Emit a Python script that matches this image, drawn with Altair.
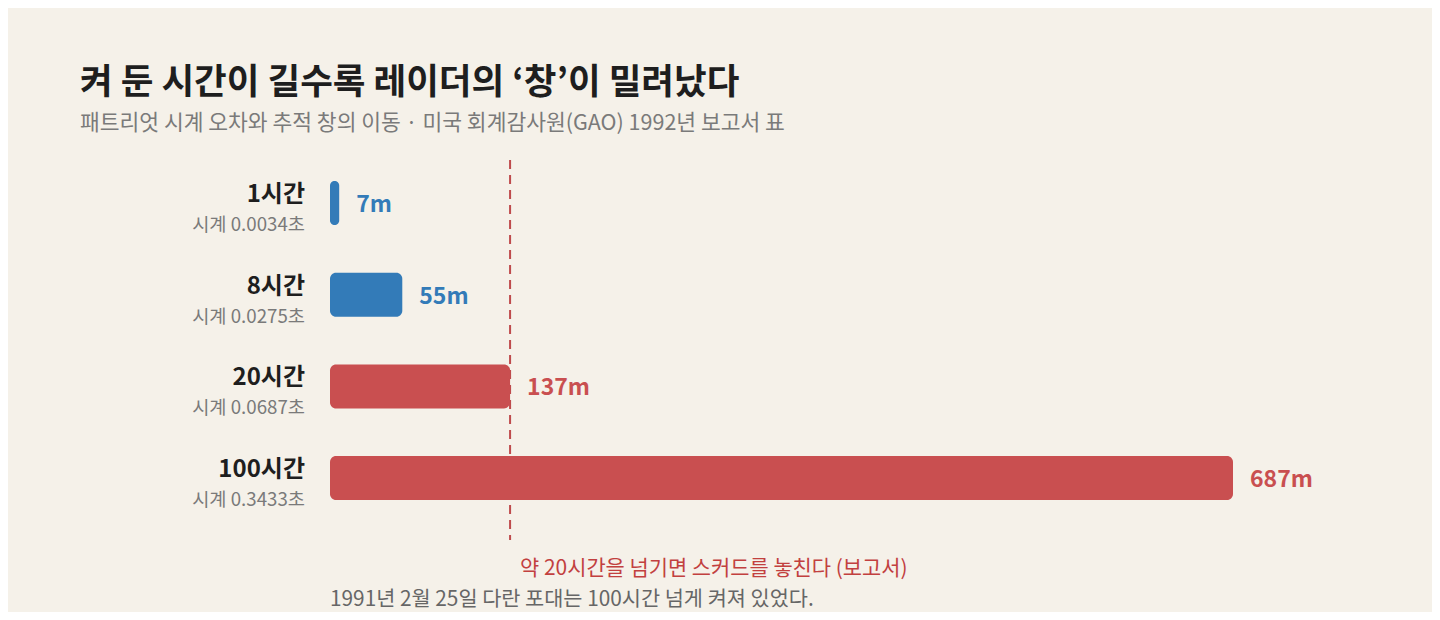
import altair as alt
import pandas as pd

# ---- data ----
hours = ["1시간", "8시간", "20시간", "100시간"]
clock_error = ["시계 0.0034초", "시계 0.0275초", "시계 0.0687초", "시계 0.3433초"]
shift_m = [7, 55, 137, 687]
value_labels = ["7m", "55m", "137m", "687m"]
status = ["within", "within", "lost", "lost"]
threshold_m = [137]
annotation_text = ["약 20시간을 넘기면 스커드를 놓친다 (보고서)"]
footnote_text = ["1991년 2월 25일 다란 포대는 100시간 넘게 켜져 있었다."]

title_text = "켜 둔 시간이 길수록 레이더의 ‘창’이 밀려났다"
subtitle_text = "패트리엇 시계 오차와 추적 창의 이동 · 미국 회계감사원(GAO) 1992년 보고서 표"

df = pd.DataFrame({
    "hours": hours,
    "clock": clock_error,
    "shift": shift_m,
    "label": value_labels,
    "status": status,
})
thr = pd.DataFrame({"t": threshold_m, "note": annotation_text})
foot = pd.DataFrame({"x": [0], "note": footnote_text})

FONT = "Noto Sans CJK KR"
BG = "#f5f1e9"
BLUE = "#337bb8"
RED = "#c94f50"

x_scale = alt.Scale(domain=[0, 687], range=[250, 1153])
y_scale = alt.Scale(domain=hours, range=[7.15, 373.95], paddingInner=0.52, paddingOuter=0.26)
color_scale = alt.Scale(domain=["within", "lost"], range=[BLUE, RED])
text_color_scale = alt.Scale(domain=["within", "lost"], range=["#2e72b0", "#c2403f"])

X = alt.X("shift:Q", scale=x_scale, axis=None)
Y = alt.Y("hours:N", scale=y_scale, axis=None, sort=hours)
X0 = alt.X("zero:Q", scale=x_scale, axis=None)

base = alt.Chart(df).transform_calculate(zero="0")

bars = base.mark_bar(cornerRadius=6).encode(
    x=X0,
    x2="shift:Q",
    y=Y,
    color=alt.Color("status:N", scale=color_scale, legend=None),
)

values = base.mark_text(align="left", baseline="middle", dx=17, dy=2, font=FONT,
                        fontSize=23, fontWeight="bold").encode(
    x=X, y=Y, text="label:N",
    color=alt.Color("status:N", scale=text_color_scale, legend=None),
)

row_labels = base.mark_text(align="right", baseline="middle", dx=-25, dy=-8,
                            font=FONT, fontSize=24, fontWeight="bold",
                            color="#1e1e1e").encode(
    x=X0, y=Y, text="hours:N",
)

sub_labels = base.mark_text(align="right", baseline="middle", dx=-25, dy=22,
                            font=FONT, fontSize=18.7, color="#7a7a7a").encode(
    x=X0, y=Y, text="clock:N",
)

rule = alt.Chart(thr).mark_rule(color="#b8383b", strokeWidth=2,
                                strokeDash=[9, 6], opacity=0.9).encode(
    x=alt.X("t:Q", scale=x_scale, axis=None),
    y=alt.value(10), y2=alt.value(390),
)

note = alt.Chart(thr).mark_text(align="left", baseline="middle", dx=10,
                                font=FONT, fontSize=20.9, color="#c2403f").encode(
    x=alt.X("t:Q", scale=x_scale, axis=None),
    y=alt.value(419), text="note:N",
)

footnote = alt.Chart(foot).mark_text(align="left", baseline="middle",
                                     font=FONT, fontSize=20.8, color="#666666").encode(
    x=alt.X("x:Q", scale=x_scale, axis=None),
    y=alt.value(450), text="note:N",
)

chart = alt.layer(rule, bars, values, row_labels, sub_labels, note, footnote).properties(
    width=1340,
    height=400,
    padding={"left": 72, "top": 142, "right": 12, "bottom": 62},
    autosize=alt.AutoSizeParams(type="none"),
    background=BG,
    title=alt.TitleParams(
        text=title_text,
        subtitle=subtitle_text,
        anchor="start",
        font=FONT,
        fontSize=35.5,
        fontWeight="bold",
        color="#1e1e1e",
        subtitleFont=FONT,
        subtitleFontSize=21.5,
        subtitleColor="#7a7a7a",
        subtitlePadding=11,
        offset=16,
    ),
).configure_view(stroke=None)

chart.save("out.html", embed_options={"renderer": "svg", "actions": False})
